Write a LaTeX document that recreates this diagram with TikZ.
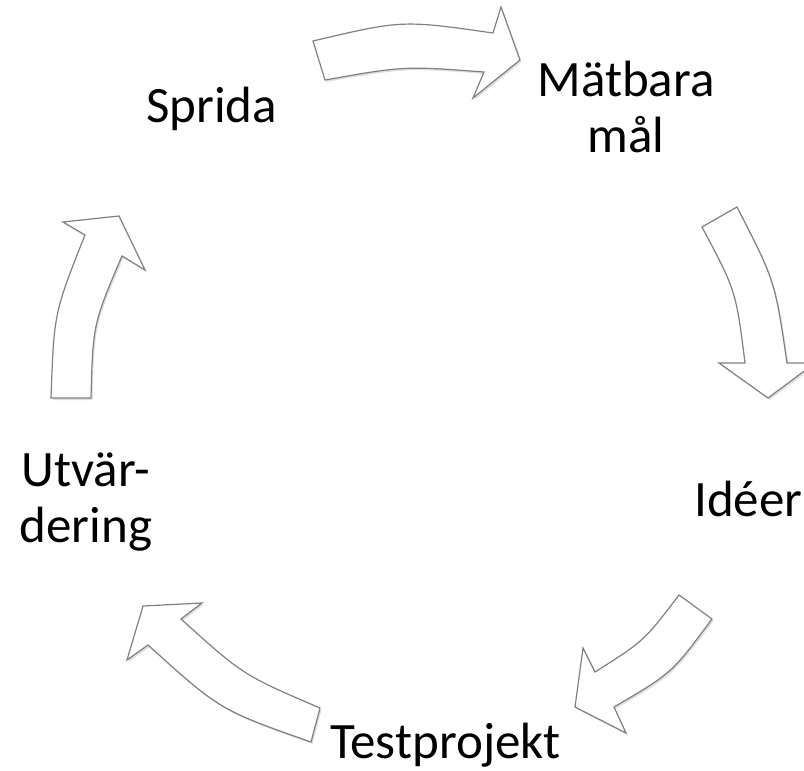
\documentclass[tikz,border=0pt]{standalone}
\usepackage{fontspec}
\setmainfont{Carlito}
\usetikzlibrary{shadows}

\begin{document}
\begin{tikzpicture}[x=1bp,y=-1bp]
	\tikzstyle{every node}+=[inner sep=0pt, font=\fontsize{51bp}{56bp}\selectfont]
	\tikzstyle{cyclearrow}=[draw=black!50, line width=1.2bp, fill=white, drop shadow={shadow xshift=1.5bp, shadow yshift=-2bp, opacity=0.25}]
	\useasboundingbox (0,0) rectangle (804,771);
	\clip (0,0) rectangle (804,771);
	\draw [cyclearrow] (313,41) .. controls (402,20) .. (493,33) -- (501,7) -- (520,60) -- (473,98) -- (484,72) .. controls (404,66) .. (325,80) -- cycle;
	\draw [cyclearrow] (702,227) .. controls (736,291) .. (745,363) -- (719,363) -- (768,398) -- (815,363) -- (787,363) .. controls (775,281) .. (737,207) -- cycle;
	\draw [cyclearrow] (679,595) .. controls (644,641) .. (595,672) -- (583,648) -- (575,707) -- (626,733) -- (614,707) .. controls (672,673) .. (712,619) -- cycle;
	\draw [cyclearrow] (320,708) .. controls (243,675) .. (181,619) -- (202,603) -- (143,606) -- (127,660) -- (148,645) .. controls (220,710) .. (311,742) -- cycle;
	\draw [cyclearrow] (51,398) .. controls (54,313) .. (85,235) -- (63,222) -- (119,216) -- (145,270) -- (122,256) .. controls (93,324) .. (91,398) -- cycle;
	\node (sprida) [anchor=base west] at (146,122) {Sprida};
	\node (matbara) [align=center, anchor=base] at (626,152) {Mätbara\\mål};
	\node (ideer) [anchor=base west] at (694,516) {Idéer};
	\node (testprojekt) [anchor=base west] at (330,758) {Testprojekt};
	\node (utvardering) [align=center, anchor=base] at (86,542) {Utvär-\\dering};
\end{tikzpicture}
\end{document}
